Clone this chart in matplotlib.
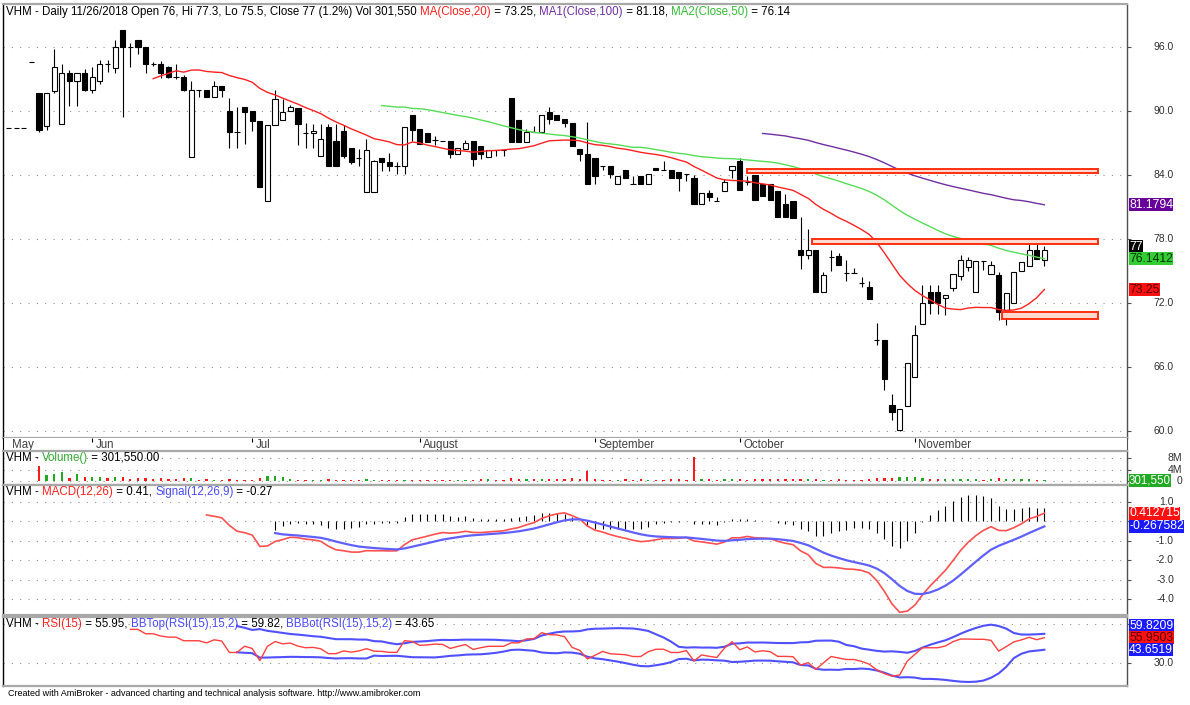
import numpy as np
import pandas as pd
import matplotlib
matplotlib.use("Agg")
import matplotlib.pyplot as plt
from matplotlib.patches import Rectangle
from matplotlib.transforms import blended_transform_factory, offset_copy

# ---------------- data ----------------
opens = [88.4, 88.4, 88.4, 94.6, 91.7, 88.6, 91.9, 88.8, 93.6, 92.8,
         93.6, 92.0, 92.8, 94.4, 94.0, 97.6, 96.0, 96.65, 96.0, 94.4,
         94.4, 94.1, 93.2, 93.2, 85.7, 92.0, 92.0, 91.35, 92.35, 90.0,
         88.0, 90.4, 90.0, 89.05, 81.6, 88.65, 89.2, 90.0, 90.25, 87.95,
         87.9, 85.8, 88.5, 87.2, 88.1, 86.5, 85.6, 82.4, 82.4, 85.6,
         85.2, 84.8, 84.8, 89.65, 88.3, 87.95, 87.3, 87.2, 87.2, 86.0,
         86.45, 87.2, 86.7, 85.65, 86.3, 86.3, 91.2, 89.2, 87.1, 88.05,
         88.05, 89.9, 89.6, 89.25, 88.9, 86.45, 85.95, 85.55, 84.8, 84.8,
         83.2, 84.5, 83.2, 83.9, 83.2, 84.7, 84.5, 84.5, 84.3, 84.05,
         83.75, 81.25, 82.3, 81.55, 82.5, 84.5, 85.3, 83.3, 84.0, 83.2,
         83.2, 82.5, 81.25, 81.6, 77.0, 76.5, 77.0, 73.05, 76.3, 76.4,
         74.8, 74.8, 73.9, 73.5, 68.5, 68.5, 62.4, 60.1, 62.3, 65.1,
         70.0, 73.0, 73.0, 72.45, 73.4, 74.5, 75.35, 73.05, 75.9, 74.7,
         74.6, 71.3, 72.0, 75.0, 75.5, 77.0, 76.0]
highs = [88.4, 88.4, 88.4, 94.6, 91.7, 91.7, 95.85, 94.4, 93.8, 93.6,
         93.9, 94.1, 94.8, 94.8, 96.65, 97.6, 96.4, 96.65, 96.0, 94.6,
         94.7, 94.2, 94.4, 93.4, 92.8, 92.0, 92.0, 92.8, 92.35, 91.2,
         90.4, 90.4, 90.0, 89.05, 88.65, 92.0, 91.1, 90.55, 90.25, 88.9,
         88.8, 88.8, 88.8, 88.8, 88.7, 86.5, 86.4, 87.4, 85.4, 85.6,
         86.1, 85.2, 88.5, 89.65, 88.3, 87.95, 87.7, 87.2, 87.2, 86.5,
         87.3, 87.2, 86.7, 86.3, 86.3, 86.3, 91.2, 89.2, 88.3, 88.6,
         89.6, 90.4, 89.6, 89.25, 88.9, 86.45, 89.0, 85.55, 84.8, 84.8,
         83.9, 84.5, 83.9, 83.9, 84.05, 84.7, 85.3, 84.5, 84.3, 84.05,
         84.0, 82.3, 82.6, 81.9, 83.6, 84.8, 85.6, 83.9, 84.0, 83.2,
         83.2, 82.5, 82.2, 81.6, 80.1, 78.9, 77.0, 74.9, 77.0, 76.7,
         76.0, 75.3, 74.4, 74.1, 70.15, 68.5, 63.5, 62.1, 66.4, 69.9,
         73.7, 73.7, 73.7, 72.75, 74.7, 76.5, 76.3, 75.9, 75.9, 75.9,
         74.9, 72.9, 74.9, 75.8, 77.9, 77.75, 77.3]
lows = [88.4, 88.4, 88.4, 94.6, 88.0, 88.2, 91.7, 88.8, 90.5, 90.5,
        91.9, 91.7, 92.5, 93.7, 93.6, 89.4, 94.1, 95.3, 93.6, 94.2,
        93.1, 93.1, 93.0, 91.9, 85.7, 91.3, 91.3, 91.3, 91.3, 86.5,
        86.5, 86.9, 88.1, 82.85, 81.6, 88.65, 89.2, 90.0, 86.85, 86.5,
        86.5, 85.8, 84.8, 84.8, 85.6, 85.0, 84.85, 82.4, 82.4, 84.4,
        84.4, 84.05, 84.05, 87.2, 86.9, 87.05, 86.8, 87.2, 85.6, 86.0,
        86.45, 84.85, 85.5, 85.65, 85.8, 85.8, 87.1, 87.1, 87.1, 88.0,
        88.05, 88.8, 89.2, 88.5, 86.7, 85.3, 83.2, 83.2, 84.5, 83.75,
        83.2, 83.75, 83.2, 83.2, 83.2, 84.5, 84.5, 83.75, 82.5, 83.4,
        81.25, 81.25, 81.55, 81.55, 82.5, 83.75, 82.6, 83.1, 81.7, 82.0,
        81.7, 80.1, 80.1, 80.0, 75.15, 76.1, 73.05, 73.05, 75.0, 75.55,
        74.1, 74.8, 73.5, 72.4, 68.05, 63.8, 61.0, 60.0, 62.3, 65.1,
        70.0, 71.0, 71.0, 70.9, 73.1, 74.2, 75.0, 73.05, 75.1, 74.7,
        70.4, 69.9, 72.0, 75.0, 75.5, 76.1, 75.5]
closes = [88.4, 88.4, 88.4, 94.6, 88.2, 91.7, 94.1, 93.6, 92.8, 93.6,
          92.0, 93.2, 94.4, 94.4, 96.0, 96.0, 96.0, 96.0, 94.4, 94.4,
          93.6, 93.2, 93.2, 92.0, 92.0, 92.0, 91.35, 92.35, 92.0, 88.0,
          88.0, 89.9, 89.05, 82.85, 88.65, 91.15, 89.95, 90.35, 88.8, 87.95,
          88.1, 87.4, 84.8, 84.8, 85.8, 85.2, 85.6, 86.35, 85.3, 85.2,
          84.8, 84.8, 88.5, 88.25, 86.9, 87.05, 87.3, 87.2, 85.95, 86.5,
          87.0, 85.5, 85.95, 86.3, 86.3, 86.3, 87.1, 87.1, 88.0, 88.05,
          89.6, 89.25, 89.2, 88.9, 86.7, 85.95, 83.2, 83.95, 84.8, 84.05,
          83.9, 83.75, 83.2, 83.2, 84.05, 84.5, 84.5, 83.75, 83.75, 84.05,
          81.25, 82.3, 81.9, 81.55, 83.3, 84.8, 82.6, 83.3, 81.7, 82.0,
          81.7, 80.1, 80.1, 80.0, 76.5, 77.0, 73.05, 74.6, 76.3, 75.55,
          74.8, 74.8, 73.9, 72.4, 68.5, 64.9, 61.8, 62.1, 66.4, 69.0,
          72.0, 72.0, 72.0, 72.75, 74.7, 76.0, 76.0, 75.9, 75.9, 75.55,
          71.2, 72.9, 74.9, 75.8, 77.0, 76.1, 77.0]
volumes_m = [0, 0, 0, 0, 5.3, 2.0, 2.6, 3.3, 1.2, 2.6,
             1.5, 1.4, 1.3, 0.9, 1.4, 1.3, 0.8, 1.0, 1.1, 0.7,
             0.9, 0.8, 0.7, 0.9, 1.0, 0.5, 0.6, 0.5, 0.4, 0.7,
             0.5, 0.5, 0.4, 0.9, 1.7, 1.6, 1.4, 0.7, 0.5, 0.4,
             0.4, 0.5, 0.6, 0.4, 0.5, 0.4, 0.3, 0.6, 0.5, 0.4,
             0.4, 0.3, 0.5, 0.5, 0.4, 0.3, 0.3, 0.3, 0.4, 0.3,
             0.4, 0.5, 0.7, 0.6, 0.5, 0.5, 0.9, 0.8, 0.7, 0.6,
             0.7, 0.6, 0.7, 0.8, 0.9, 0.6, 3.4, 0.7, 0.4, 0.5,
             0.5, 0.6, 0.5, 0.6, 0.5, 0.5, 0.4, 0.6, 0.7, 0.4,
             8.6, 0.7, 0.6, 0.5, 0.7, 0.6, 0.8, 0.5, 0.7, 0.6,
             0.7, 0.7, 0.6, 0.6, 0.8, 0.6, 0.7, 0.5, 0.5, 0.6,
             0.4, 0.4, 0.5, 0.6, 0.9, 1.0, 1.1, 1.3, 1.4, 1.4,
             1.2, 0.8, 0.7, 0.6, 0.7, 0.8, 0.6, 0.7, 0.5, 0.6,
             1.0, 0.8, 0.7, 0.6, 0.6, 0.5, 0.30155]

month_names = ["May", "Jun", "Jul", "August", "September", "October", "November"]
month_first_bar = [0, 11, 32, 54, 77, 96, 119]

price_levels = [60, 66, 72, 78, 84, 90, 96]
volume_levels = [0, 4, 8]
volume_level_text = ["0", "4M", "8M"]
macd_levels = [-4, -3, -2, -1, 0, 1]
rsi_levels = [30, 70]

zone_first_bar = [97, 105.5, 130.4]
zone_low = [84.14, 77.5, 70.5]
zone_high = [84.56, 78.0, 71.2]
zone_last_bar = 143

# ---------------- indicators ----------------
O = np.array(opens); Hh = np.array(highs); L = np.array(lows); C = np.array(closes)
N = len(C)
x = np.arange(N)
cs = pd.Series(C)
ma20 = cs.rolling(20).mean()
ma50 = cs.rolling(50).mean()
ma100 = cs.rolling(100).mean()
macd = cs.ewm(span=12, adjust=False).mean() - cs.ewm(span=26, adjust=False).mean()
signal = macd.ewm(span=9, adjust=False).mean()
hist = macd - signal

# RSI(15) with Wilder smoothing, seeded by a simple average
P = 15
dd = np.diff(C, prepend=np.nan)
gain = np.clip(np.nan_to_num(dd), 0, None)
loss = np.clip(-np.nan_to_num(dd), 0, None)
ag = np.full(N, np.nan); al = np.full(N, np.nan)
ag[P] = gain[1:P + 1].mean(); al[P] = loss[1:P + 1].mean()
for i in range(P + 1, N):
    ag[i] = (ag[i - 1] * (P - 1) + gain[i]) / P
    al[i] = (al[i - 1] * (P - 1) + loss[i]) / P
rsi = pd.Series(100 - 100 / (1 + ag / al))
bb_mid = rsi.rolling(15).mean()
bb_sd = rsi.rolling(15).std(ddof=0)
bb_top = bb_mid + 2 * bb_sd
bb_bot = bb_mid - 2 * bb_sd

# ---------------- figure ----------------
plt.rcParams['font.family'] = ['Liberation Sans', 'DejaVu Sans']
W, H = 1190, 705
fig = plt.figure(figsize=(W / 100, H / 100), dpi=100)
fig.patch.set_facecolor('white')
XL, XR = 3, 1127
XLIM = (-0.72, 146.85)
RED = '#ff2020'; PURPLE = '#7030a0'; BLUE = '#4a4aff'
GRID = dict(color='#909090', lw=0.8, ls=(0, (1, 6.5)))


def pane(y0, y1, ylim, levels):
    ax = fig.add_axes([XL / W, 1 - y1 / H, (XR - XL) / W, (y1 - y0) / H])
    ax.set_xlim(*XLIM)
    ax.set_ylim(*ylim)
    ax.set_xticks([])
    for s in ('top', 'bottom'):
        ax.spines[s].set_color('#a8a8a8'); ax.spines[s].set_linewidth(1.6)
    ax.spines['left'].set_color('black'); ax.spines['left'].set_linewidth(1)
    ax.spines['right'].set_color('#505050'); ax.spines['right'].set_linewidth(1)
    ax.yaxis.tick_right()
    ax.set_yticks(levels)
    ax.tick_params(axis='y', direction='out', length=3, width=0.8, color='#505050',
                   labelright=False, labelleft=False)
    ax.grid(axis='y', **GRID)
    ax.set_axisbelow(True)
    return ax


def ylabels(ax, vals, texts, right=1174):
    tr = blended_transform_factory(fig.transFigure, ax.transData)
    for v, t in zip(vals, texts):
        ax.text(right / W, v, t, transform=tr, ha='right', va='center', fontsize=7.5,
                color='#303030', clip_on=False, zorder=5)


def vboxes(ax, items, size=8.8):
    # items: (value, text, bg, fg); overlapping boxes are pushed upward
    tr = blended_transform_factory(fig.transFigure, ax.transData)
    pix = [ax.transData.transform((0, it[0]))[1] for it in items]
    order = np.argsort([it[0] for it in items])
    last = None
    placed = {}
    for k in order:
        py = pix[k]
        if last is not None and py < last + 12:
            py = last + 12
        placed[k] = py
        last = py
    for k, (v, s, bg, fg) in enumerate(items):
        yv = ax.transData.inverted().transform((0, placed[k]))[1]
        ax.text(1129 / W, yv, s, transform=tr, ha='left', va='center', fontsize=size,
                color=fg, clip_on=False, zorder=20,
                bbox=dict(boxstyle='square,pad=0.04', fc=bg, ec='none'))


renderer = fig.canvas.get_renderer()


def twidth(s, size):
    t = fig.text(0, 0, s, fontsize=size)
    w = t.get_window_extent(renderer).width
    t.remove()
    return w


def multicolor(x_px, y_px, parts, size=8.3):
    full = ''
    base = twidth('I', size)
    for s, c in parts:
        off = twidth(full + 'I', size) - base if full else 0
        fig.text((x_px + off) / W, 1 - y_px / H, s, color=c, fontsize=size,
                 ha='left', va='center', zorder=30)
        full += s


# ---- price pane ----
axp = pane(4, 438, (59.34, 100.03), price_levels)
ylabels(axp, price_levels, [f"{v:.1f}" for v in price_levels])
axp.vlines(x, L, Hh, color='black', lw=0.8, zorder=2)
up = C > O
blo = np.minimum(O, C); bh = np.abs(C - O)
axp.bar(x[up], bh[up], bottom=blo[up], width=0.68, facecolor='white', edgecolor='black', lw=0.8, zorder=3)
axp.bar(x[~up], bh[~up], bottom=blo[~up], width=0.68, facecolor='black', edgecolor='black', lw=0.8, zorder=3)
axp.plot(x[19:], ma20[19:], color=RED, lw=1.0, zorder=4)
axp.plot(x[49:], ma50[49:], color='#55dd55', lw=1.0, zorder=4)
axp.plot(x[99:], ma100[99:], color=PURPLE, lw=1.0, zorder=4)
for b, lo, hi in zip(zone_first_bar, zone_low, zone_high):
    axp.add_patch(Rectangle((b, lo), zone_last_bar - b, hi - lo, facecolor='#ffd8d0',
                            edgecolor='#ff3010', lw=1.4, zorder=5))
vboxes(axp, [(ma100.iloc[-1], "81.1794", '#660099', 'white'),
             (C[-1], "77", 'black', 'white'),
             (ma50.iloc[-1], "76.1412", '#33cc33', '#003300'),
             (ma20.iloc[-1], "73.25", '#ff1010', '#550000')])

# ---- date strip ----
axd = fig.add_axes([XL / W, 1 - 451 / H, (XR - XL) / W, 13 / H])
axd.set_xlim(*XLIM); axd.set_ylim(0, 1)
axd.set_xticks([]); axd.set_yticks([])
for s in ('top', 'bottom'):
    axd.spines[s].set_visible(False)
axd.spines['left'].set_color('black'); axd.spines['right'].set_color('#505050')
axd.vlines(month_first_bar[1:], 0.7, 1.0, color='black', lw=0.8)
otr = offset_copy(axd.transData, fig=fig, x=3.5, y=0, units='dots')
for b, name in zip(month_first_bar, month_names):
    axd.text(b, 0.45, name, transform=otr, fontsize=8.3, color='#404040', va='center', ha='left')

# ---- volume pane ----
axv = pane(451, 485, (-1.41, 10.6), volume_levels)
ylabels(axv, volume_levels, volume_level_text, right=1182)
vol = np.array(volumes_m)
vcol = np.where(C > O, '#22aa22', '#ff1a1a')
axv.bar(x, vol, width=0.3, color=vcol, zorder=3)
vboxes(axv, [(vol[-1], "301,550", '#22aa22', 'white')], size=8.3)

# ---- MACD pane ----
axm = pane(485, 615, (-4.81, 1.856), macd_levels)
ylabels(axm, [1, -1, -2, -3, -4], ["1.0", "-1.0", "-2.0", "-3.0", "-4.0"])
axm.vlines(x[35:], 0, hist[35:], color='black', lw=0.8, zorder=3)
axm.plot(x[26:], macd[26:], color='#ff5050', lw=1.2, zorder=4)
axm.plot(x[35:], signal[35:], color='#6060ff', lw=1.6, zorder=4)
vboxes(axm, [(macd.iloc[-1], "0.412715", '#ff1010', 'white'),
             (signal.iloc[-1], "-0.267582", '#1a1aff', 'white')])

# ---- RSI pane ----
axr = pane(617, 686, (6.4, 77.2), rsi_levels)
ylabels(axr, [30], ["30.0"])
axr.plot(x[16:], rsi[16:], color='#ff4040', lw=1.0, zorder=4)
axr.plot(x[30:], bb_top[30:], color='#5050ff', lw=1.5, zorder=3)
axr.plot(x[30:], bb_bot[30:], color='#5050ff', lw=1.5, zorder=3)
vboxes(axr, [(bb_top.iloc[-1], "59.8209", '#1a1aff', 'white'),
             (rsi.iloc[-1], "55.9503", '#ff1010', '#550000'),
             (bb_bot.iloc[-1], "43.6519", '#1a1aff', 'white')])

# ---- titles ----
K = 'black'
multicolor(6, 12, [("VHM - Daily 11/26/2018 Open 76, Hi 77.3, Lo 75.5, Close 77 (1.2%) Vol 301,550 ", K),
                   ("MA(Close,20)", RED), (" = 73.25, ", K),
                   ("MA1(Close,100)", PURPLE), (" = 81.18, ", K),
                   ("MA2(Close,50)", '#33bb33'), (" = 76.14", K)])
multicolor(6, 458, [("VHM - ", K), ("Volume()", '#33aa33'), (" = 301,550.00", K)])
multicolor(6, 492, [("VHM - ", K), ("MACD(12,26)", RED), (" = 0.41, ", K),
                    ("Signal(12,26,9)", BLUE), (" = -0.27", K)])
multicolor(6, 624, [("VHM - ", K), ("RSI(15)", RED), (" = 55.95, ", K),
                    ("BBTop(RSI(15),15,2)", BLUE), (" = 59.82, ", K),
                    ("BBBot(RSI(15),15,2)", BLUE), (" = 43.65", K)])

fig.text(8 / W, 1 - 693 / H,
         "Created with AmiBroker - advanced charting and technical analysis software. http://www.amibroker.com",
         fontsize=6.5, va='center', ha='left', color='black')

fig.savefig("out.png", dpi=100, facecolor='white')
